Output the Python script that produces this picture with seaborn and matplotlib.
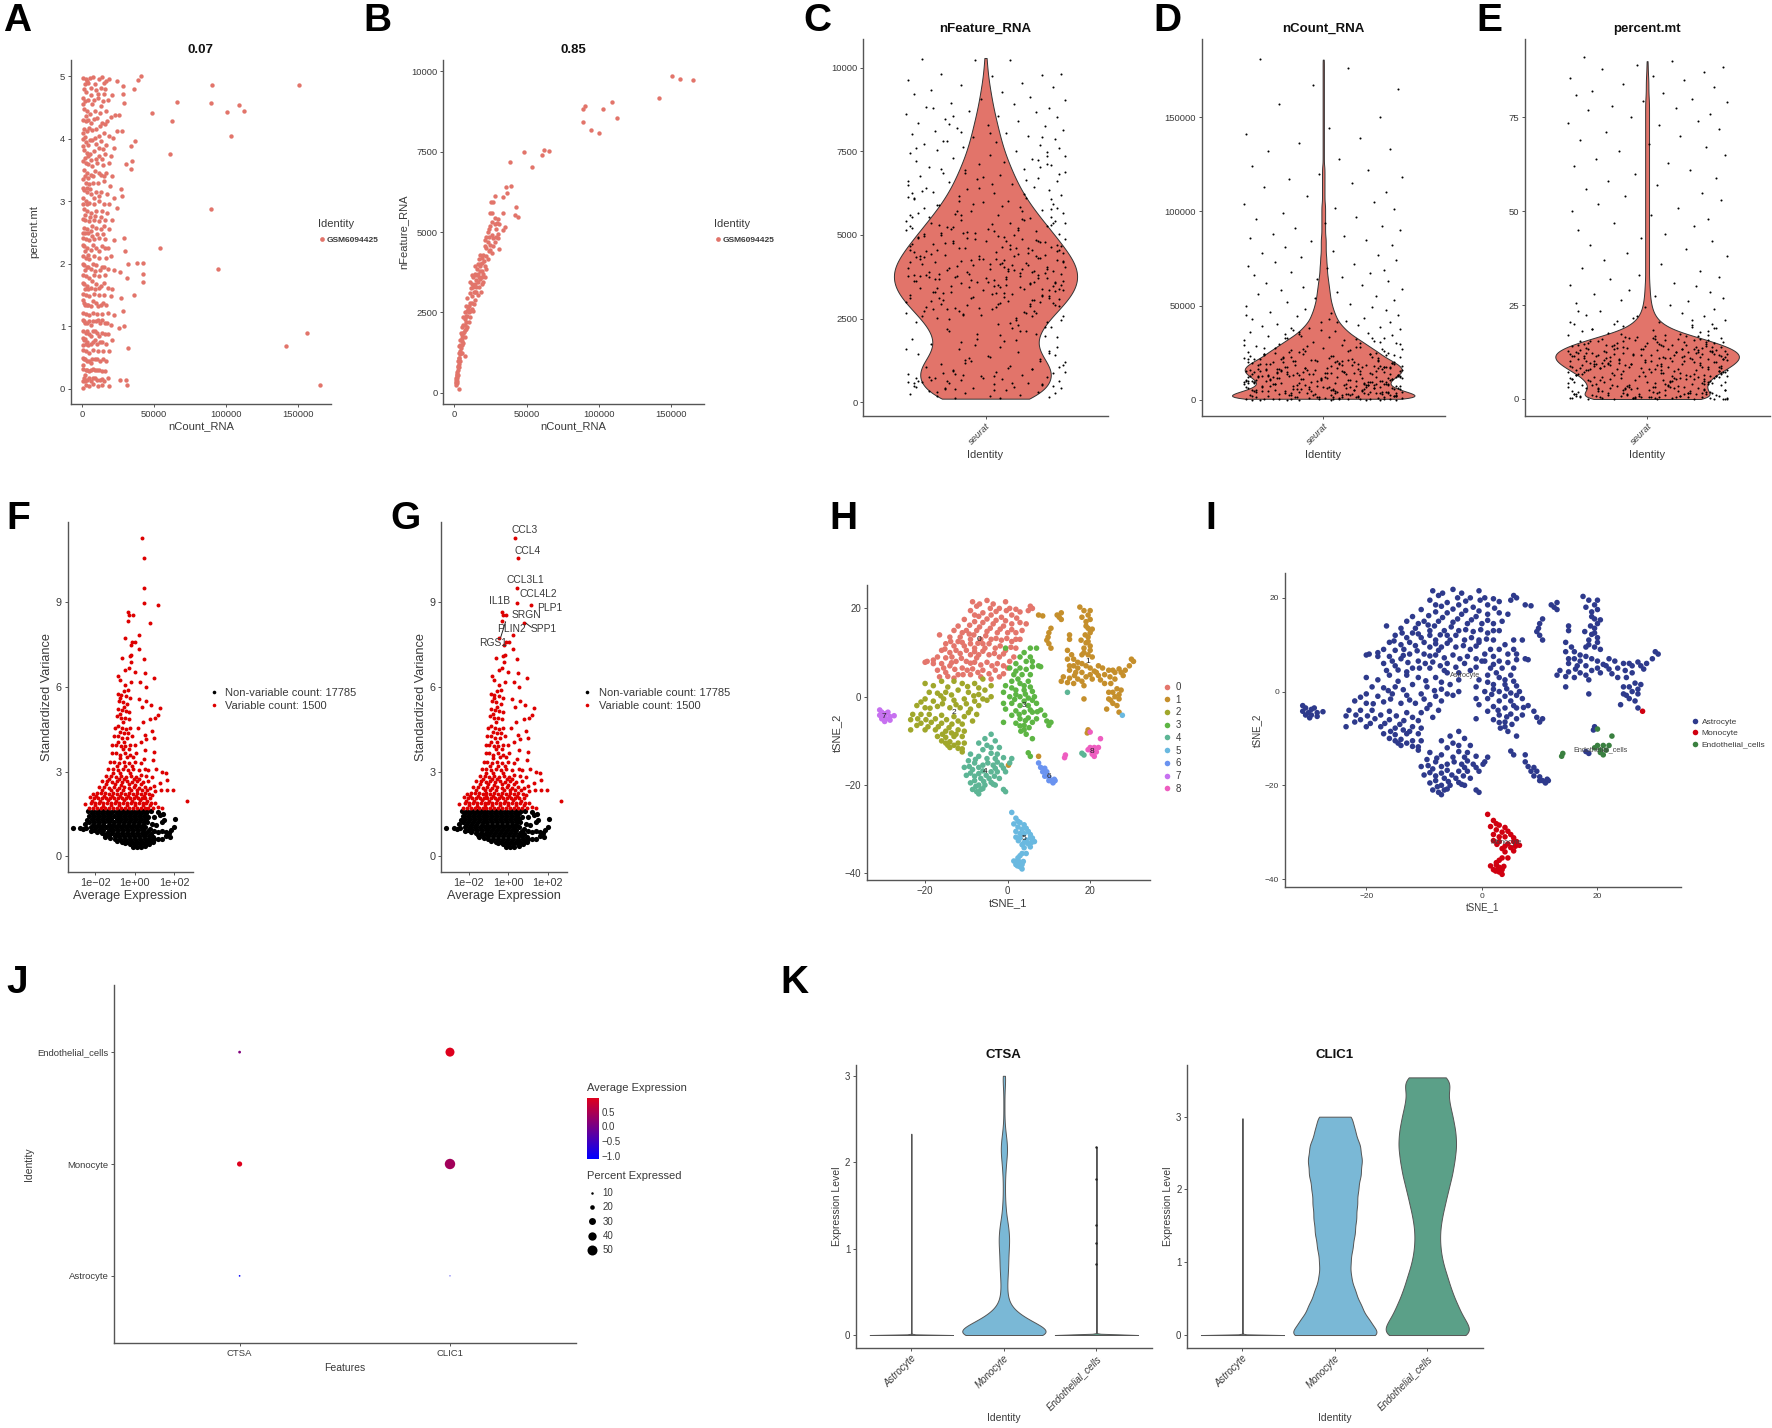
import numpy as np
import pandas as pd
import matplotlib
matplotlib.use("Agg")
import matplotlib.pyplot as plt
import seaborn as sns
from matplotlib.colors import LinearSegmentedColormap, Normalize
from matplotlib.colorbar import ColorbarBase
from matplotlib.lines import Line2D

# ---------- data ----------
qc_color = "#E2746A"
identity_name = "GSM6094425"

# A: nCount_RNA (thousands), percent.mt
a_points = [(150.7,4.86),(90.6,4.86),(89.6,4.57),(65.8,4.59),(48.3,4.42),(62.2,4.29),(101,4.43),(109,4.54),(112.7,4.44),(103.5,4.05),(61.1,3.76),(89.6,2.88),(54,2.25),(94.6,1.92),(142,.69),(156.4,.89),(165,.07),
(40.9,5),(38.7,4.94),(36.3,4.79),(28.5,4.85),(24.2,4.93),(28.4,4.72),(29.2,4.58),(25.6,4.38),(27.7,4.13),(37,3.97),(34,3.89),(30.6,3.6),(34.8,3.65),(34.1,3.51),(27.4,3.2),(27.7,3.09),(29.1,2.42),(29.8,2.2),(32,2),(38.4,2.02),(42.3,2.01),(42.6,1.84),(42.6,1.71),(31.6,1.78),(26.6,1.87),(35.9,1.51),(27,1.46),(28.4,1.25),(29.1,1),(25.9,.97),(32,.65),(26.6,.14),(30.5,.14),(31.6,.07),(19,.04),
(1,4.98),(2.5,4.95),(4,4.9),(5.5,4.97),(7.5,4.99),(9,4.88),(12,4.95),(14,4.99),(15.5,4.9),(17,4.92),(19,4.96),(1.2,4.8),(3,4.75),(6,4.82),(10,4.78),(13,4.82),(16,4.8),(21,4.7),(.8,4.65),(2.2,4.6),(4.5,4.62),(7,4.55),(11,4.65),(14.5,4.6),(18,4.62),(1.5,4.48),(3.5,4.45),(5.5,4.4),(9,4.45),(12.5,4.42),(16.5,4.45),(20,4.35),(23,4.38),(.7,4.3),(2.5,4.28),(6.5,4.25),(8,4.32),(14,4.25),(17.5,4.28),(1.5,4.15),(3.8,4.12),(5,4.18),(9.5,4.15),(11.5,4.05),(15.5,4.1),(19,4.05),(21.5,4.02),(24,4.12),(.9,4),(2.8,3.95),(4.2,3.9),(7,3.98),(10,3.92),(13,3.97),(17,3.9),(22,3.85),(1.2,3.82),(3.2,3.78),(5.8,3.75),(8.5,3.8),(12,3.72),(16,3.76),(20,3.72),(.7,3.65),(2.5,3.62),(4.5,3.6),(7,3.56),(10.5,3.62),(14.5,3.58),(18.5,3.62),(1.4,3.5),(3.4,3.45),(6,3.42),(9,3.48),(13,3.42),(16.8,3.45),(21,3.4),(.8,3.35),(2.5,3.3),(4.8,3.28),(7.8,3.3),(11,3.3),(15,3.32),(19.5,3.25),(1.5,3.18),(3.6,3.15),(6.2,3.12),(9.5,3.15),(13,3.15),(17.5,3.12),(22,3.05),(.9,3.05),(2.6,3),(5,2.98),(8,2.95),(11.5,3),(15,2.95),(19,2.95),(1.3,2.88),(3.4,2.85),(6.5,2.82),(10,2.85),(14,2.85),(17.5,2.82),(24,2.9),(.8,2.72),(2.4,2.7),(4.6,2.68),(8,2.7),(12,2.68),(16,2.7),(21,2.7),(1.5,2.58),(3.5,2.55),(6.2,2.52),(9.5,2.58),(13.5,2.55),(19,2.55),(.9,2.42),(2.8,2.4),(5,2.38),(8,2.4),(11.5,2.42),(16,2.4),(22,2.38),(1.4,2.28),(3.6,2.25),(6.5,2.22),(10,2.25),(14,2.28),(18,2.25),(.8,2.12),(2.5,2.1),(4.8,2.08),(8,2.12),(12,2.1),(16.5,2.1),(20,2.12),(1.5,1.98),(3.5,1.95),(6.5,1.92),(10,1.98),(14,1.95),(18,1.92),(22,1.9),(.9,1.82),(2.5,1.8),(5,1.78),(8,1.82),(12,1.8),(16,1.82),(1.5,1.68),(3.4,1.65),(6.5,1.62),(10,1.68),(13.5,1.65),(18,1.62),(21,1.6),(.8,1.52),(2.6,1.5),(5,1.48),(8,1.52),(11.5,1.5),(15,1.5),(20,1.48),(1.4,1.38),(3.5,1.35),(6.2,1.32),(9.5,1.38),(13,1.35),(16.5,1.35),(.9,1.22),(2.5,1.2),(4.8,1.18),(7.5,1.22),(10.5,1.2),(14,1.2),(18,1.22),(22,1.18),(1.5,1.08),(3.6,1.05),(6.5,1.02),(9.5,1.08),(12.5,1.05),(16,1.05),(20,1.02),(.8,.92),(2.6,.9),(4.8,.88),(7.5,.92),(10.5,.9),(14,.9),(18,.88),(1.4,.78),(3.5,.75),(6,.72),(9,.78),(12.5,.75),(16.5,.72),(21,.78),(.9,.62),(2.5,.6),(4.8,.58),(7.5,.62),(11,.6),(14.5,.6),(19,.6),(1.5,.48),(3.5,.45),(6,.42),(9,.48),(12.5,.45),(17,.45),(.8,.32),(2.6,.3),(4.8,.28),(7.5,.32),(10.5,.3),(14,.28),(1.4,.18),(3.5,.15),(6,.12),(9,.18),(12.5,.15),(15.5,.12),(18,.18),(.9,.02),(2.6,.06),(4.8,.05),(7.5,.08),(11,.05),(14,.06),
(1.9,4.87),(3.3,4.93),(6.4,4.7),(8.2,4.62),(11.1,4.72),(13.3,4.52),(15.2,4.71),(.6,4.55),(2.9,4.37),(4.4,4.3),(7.3,4.14),(10.2,4.34),(12.6,4.2),(15.7,4.23),(.5,4.1),(2.1,4.03),(5.7,3.98),(8.9,4.02),(11.8,3.85),(14.9,3.83),(.6,3.88),(2,3.7),(4.1,3.72),(6.6,3.66),(9.4,3.68),(13.6,3.67),(1.8,3.4),(4.2,3.38),(7.7,3.4),(11.7,3.45),(15.4,3.4),(.5,3.22),(3.2,3.22),(5.6,3.2),(8.5,3.05),(12,3.08),(.4,2.95),(1.9,2.78),(3.7,2.95),(5.4,2.75),(7.1,2.6),(9.3,2.77),(13,2.75),(15.6,2.6),(.4,2.5),(2.2,2.5),(4.2,2.5),(6.9,2.45),(10.4,2.48),(14.6,2.48),(.5,2.3),(2.1,2.2),(4.3,2.15),(7.4,2.3),(12,2.2),(16,2.25),(.4,2),(2.3,1.9),(4.5,1.95),(7.4,2),(9.2,1.88),(12.6,1.9),(15.6,1.95),(.5,1.7),(2.2,1.6),(4.2,1.6),(7.2,1.72),(8.8,1.6),(11.8,1.62),(15.2,1.7),(.4,1.42),(2.2,1.35),(4.5,1.35),(7.4,1.4),(11.3,1.32),(14.7,1.38),(.4,1.1),(2.2,1.05),(5,1.08),(7.8,1.08),(11.2,1.1),(13.9,1.1),(17.6,1.05),(.5,.82),(2,.8),(3.6,.92),(6,.85),(8.8,.92),(11.8,.85),(15.8,.88),(.4,.7),(2.5,.72),(4.3,.7),(7.5,.75),(10.4,.72),(14,.75),(.5,.5),(2.3,.48),(4.6,.45),(7.3,.48),(10.5,.48),(14.5,.48),(.4,.38),(1.9,.22),(3.7,.3),(6.3,.3),(8.7,.3),(11.9,.3),(16,.28),(.5,.12),(2.4,.12),(4.8,.18),(7.6,.18),(10.6,.14),(13.8,.16)]

# B: nCount_RNA (thousands), nFeature_RNA
b_points = [(150.4,9835),(156.4,9742),(165,9710),(142,9174),(108.9,9029),(90.4,8905),(89,8833),(102.9,8833),(112.7,8543),(89,8409),(94.3,8161),(100,8079),(62,7541),(65.5,7510),(48.2,7500),(60.8,7376),(54,7025),(38.4,7159),(39,6426),(35.5,6405),(36.6,6198),(33.4,6095),(28.4,6126),(25.6,5940),(27,5920),(43,5785),(42,5527),(44,5475),(33.4,5578),(29.8,5289),(34.8,5165),(24.7,5578),(33.4,5062),(31,4463),(26,5300),(24,5100),(28,5250),(30,4950),(27,4800),(29,4850),(23,4700),(21,4550),(25,4600),(20,4300),(18,4300),(22,4250),(26,4350),(19,4050),(21,3950),(16,4000),(17.5,3800),(14.5,3950),(20,3700),(18,3550),(15,3650),(13,3600),(17,3300),(15,3300),(19,3400),(12,3400),(10.5,3450),(13.5,3150),(16,3050),(11,3100),(14,2900),(9,2950),(12,2800),(10,2700),(8,2700),(13,2550),(7.5,2500),(9,2400),(11,2350),(6,2350),(8,2200),(7,2100),(5.5,2050),(9,2050),(6.5,1900),(4.5,1850),(5.5,1700),(4,1650),(5,1500),(3.5,1450),(4.2,1300),(3,1250),(7,1150),(3.5,1100),(2.5,1000),(3,900),(2.2,800),(2.6,700),(1.8,650),(2.1,550),(1.4,450),(1.7,380),(1,300),(1.3,240),(3.5,130),(16,3700),(18,3950),(14,3400),(12.5,3000),(11,2800),(10,2500),(15,3500),(17,3600),(19,3800),(8.5,2550),(7,2300),(6,2100),(5,1800),(4,1500),(3,1100),(2,600),(1,400),
(22,4500),(24,4400),(19,4200),(23,4150),(20.5,4100),(17,4150),(15.5,3850),(17.5,4000),(19,3600),(16.5,3450),(14.5,3150),(13,3300),(11.5,3250),(15,3150),(12,2600),(13.5,2750),(11,2550),(9.5,2600),(8,2400),(10,2200),(7,1950),(8,2000),(6,1850),(7,1750),(5,1600),(6,1550),(4.5,1400),(5,1250),(3.8,1200),(4,1000),(3,1000),(3.2,800),(2.5,850),(2.5,550),(2,450),(2.1,320),(1.5,520),(1.2,350),(26,4900),(25,5200),(28,4700),(29,5100),(30.5,4800),(24,4850),(22,4850),(25,4450),(27,4550),(31,5250),(28,5450),(30,5400),(23,5000),(21,4750),(26,5600),(14,3700),(12.5,3650),(18.5,3150),(20,3450),(21,3600),(22,3850)]

# C, D, E: violin outlines as levels and relative counts, and the jittered cells
c_levels = [100,500,900,1300,1700,2100,2500,2900,3300,3700,4100,4500,4900,5300,5700,6100,6500,6900,7300,7700,8100,8500,8900,9300,9700,10100,10300]
c_counts = [90,100,112,90,75,83,100,122,140,147,143,128,112,95,78,63,51,42,33,26,21,16,11,8,4,2,1]
d_levels = [500,3000,5500,8000,10500,13000,15500,18000,20500,23000,25500,28000,30500,33000,35500,38000,40500,43000,45500,48000,50500,53000,55500,58000,60500,63000,65500,68000,70500,73000,75500,78000,80500,83000,85500,88000,90500,93000,95500,98000,100500,103000,105500,108000,110500,113000,115500,118000,120500,123000,125500,128000,130500,133000,135500,138000,140500,143000,145500,148000,150500,153000,155500,158000,160500,163000,165500,168000,170500,173000,175500,178000,180500]
d_counts = [165,150,120,105,110,122,130,125,112,98,88,76,65,53,42,34,27,22,19,16,14,12,11,10,9,8,7,6,6,5,5,4,4,4,4,3,3,3,3,3,3,3,2,2,2,2,2,2,2,2,1,1,1,1,1,1,1,1,1,1,1,1,1,1,1,1,1,1,1,1,1,1,1]
e_levels = [0,1.5,3,4.5,6,7.5,9,10.5,12,13.5,15,16.5,18,19.5,21,22.5,24,25.5,27,28.5,30,31.5,33,34.5,36,37.5,39,40.5,42,43.5,45,46.5,48,49.5,51,52.5,54,55.5,57,58.5,60,61.5,63,64.5,66,67.5,69,70.5,72,73.5,75,76.5,78,79.5,81,82.5,84,85.5,87,88.5,90]
e_counts = [135,90,90,93,102,118,133,145,147,133,108,78,45,27,17,11,8,6,5,4,4,3,3,3,3,3,3,3,3,3,3,3,3,3,3,3,3,3,3,3,3,3,3,3,3,3,3,3,3,3,3,3,3,3,2,2,2,2,1,1,1]

jitter_offsets = [-.31,.12,-.05,.37,-.22,.28,.03,-.38,.18,-.12,.33,-.27,.08,-.35,.22,-.02,.39,-.17,.14,-.29,.31,-.08,.25,-.39,.06,.35,-.2,.16,-.33,.01,.29,-.14,.38,-.25,.1,-.36,.21,-.06,.34,-.19,.05,-.3,.27,-.11,.36,-.24,.15,-.37,.02,.3,-.16,.23,-.34,.09,-.03,.32,-.28,.19,-.1,.39,-.21,.07,-.32,.26,-.04,.35,-.18,.13,-.38,.24,-.09,.31,-.26,.04,.37,-.13,.2,-.35,.11,-.01,.33,-.23,.17,-.3,.28,-.07,.38,-.15,.06,-.36,.22,-.12,.34,-.27,.03,.3,-.19,.16,-.39,.25,-.05,.36,-.22,.09,-.33,.18,.0,.29,-.16,.12,-.37,.32,-.1,.23,-.29,.05,.38,-.2,.14,-.34,.27,-.03,.35,-.25,.08,-.31,.21,-.14,.39,-.18,.02,.33,-.28,.17,-.08,.26,-.38,.1,.3,-.23,.04,-.35,.24,-.12,.37,-.17,.07,-.32,.19,-.01,.34,-.26,.13,-.37,.28,-.06,.31,-.21,.11,-.39,.22,-.09,.36,-.15,.03,-.3,.25,-.11,.38,-.24,.15,-.34,.06,.32,-.19,.2,-.04,.29,-.36,.09,-.27,.35,-.13,.16,-.33,.01,.27,-.07,.39,-.22,.12,-.29,.23,-.16,.05,.33,-.38,.18,-.02,.3,-.25,.08,-.12,.36,-.31,.21,-.18,.04,.28,-.35,.14,-.06,.37,-.2,.1,-.28,.26,-.1,.34,-.37,.17,.02,-.24,.31,-.15,.07,-.33,.24,-.05,.38,-.21,.13,-.3,.29,-.08,.19,-.39,.11,.35,-.17,.04,-.26,.32,-.12,.22,-.34,.06,.27,-.03,-.23,.15,.38,-.36,.09,-.14,.3,-.19,.25,-.29,.01,.33,-.11,.18,-.38,.12,.36,-.07,-.24,.28,-.32,.05,.2,-.16,.39,-.27,.1,-.01,.34,-.35,.16,-.09,.23,-.22,.31,-.13,.07,-.37,.26]
c_values = [10280,10250,10230,9820,9810,9780,9750,9640,9560,9480,9420,9350,9280,9210,9130,9060,9030,8950,8910,8840,8790,8720,8680,8610,8570,8520,8470,8410,8360,8300,8260,8210,8150,8110,8060,8010,7960,7920,7870,7820,7780,7730,7680,7640,7590,7550,7500,7450,7410,7360,7320,7270,7220,7180,7130,7090,7040,6990,6950,6900,6850,6810,6760,6720,6670,6620,6580,6530,6490,6440,6390,6350,6300,6260,6210,6170,6120,6080,6030,5990,5940,5900,5850,5810,5760,5720,5670,5630,5590,5540,5500,5460,5410,5370,5330,5280,5240,5200,5160,5110,5070,5030,4990,4950,4910,4870,4830,4790,4750,4710,4670,4640,4600,4560,4520,4490,4450,4410,4380,4340,4310,4270,4240,4200,4170,4130,4100,4070,4030,4000,3970,3930,3900,3870,3840,3800,3770,3740,3710,3680,3640,3610,3580,3550,3510,3480,3450,3410,3380,3350,3310,3280,3240,3210,3170,3140,3100,3060,3020,2980,2940,2900,2860,2810,2770,2720,2670,2620,2570,2510,2450,2390,2330,2260,2190,2120,2050,1970,1900,1820,1740,1660,1590,1510,1440,1370,1300,1240,1190,1130,1080,1040,990,950,910,880,840,810,780,750,720,690,660,640,610,580,560,530,510,480,460,430,410,380,360,330,310,280,260,230,210,190,170,150,130,120]
c_values_more = [3720,4180,2950,4610,3340,5070,2580,3890,4430,6120,3560,710,4820,3010,5350,940,2670,4280,3760,530,5890,3120,4550,2380,6610,3980,810,3460,5190,2840,4370,620,4050,5710,3260,4720,1120,2510,3830,6400,2990,4980,450,3560,4210,5530,2770,360,3290,4690,3910,1580,6240,3440,4390,5020,2220,860,3630,4890,2730,5660,4120,390,3180,4560,1360,3780,5260,2890,6870,4310,740,3510,4760,2470,5940,3950,580,3370,5130,2130,4470,6330,3070,1790,4640,3690,7130,2610,5480,4000,480,3250,4830,990,3810,5370,2920,7380,4240,1240,3600,4950,2310,6010,4510,670,3150,5220,3860,1880,4160,2790,5790,3490,7610,4600,290,3340,5050,2040,4330,6520,3730,1050,4910,2870,5420,3970,7820,1470,4090,3210,5610,560,4730,3580,6750,2680,4270,1660,5170,3840,8090,3040,4490,770,5310,2400,3670,6130,4810,1320,3430,5530,2970,4140,8310,900,3770,4620,2560,5880,3300,1960,4370,7040,3610,5000,430,4210,2840,6420,3890,1180,5290,3120,4570,8550,2260,3720,5710,640,4030,6980,3380,1720,4860,2660,5140,3950,7470,3230,4440,1420,5610,3530,6270,2930,840,4190,3650,7920,4970,2140,3100,5350,4290,1010,3800,6640,2730,4680,3480,8800,1540,5080,3910,600,4110,2480,5800,3590,7250,4380,2020,3270,4890,1260,5460,3750,6090,2820,4240,730,3060,5230,3990,8050,4540,1850,3400,6830,2590,4780]
d_values = [181000,176000,167000,165000,157000,150000,144000,141000,139000,136000,133000,132000,128000,124000,122000,120000,118000,117000,115000,113000,110000,108000,105000,104000,102000,101000,99000,97000,96000,94000,92000,91000,90000,88000,87000,86000,85000,84000,82000,81000,79000,78000,77000,76000,74000,73000,72000,71000,70000,69000,68000,67000,66000,65000,64000,63000,62000,61000,60000,59000,58000,57000,56000,55000,54000,53000,52000,51000,50000,49000,48000,47500,46500,46000,45000,44500,43500,43000,42000,41500,41000,40000,39500,39000,38500,38000,37500,37000,36500,36000,35500,35000,34500,34000,33500,33000,32500,32000,31500,31000,30500,30000,29500,29000,28500,28000,27500,27000,26500,26000,25500,25000,24500,24000,23500,23000,22600,22200,21800,21400,21000,20600,20200,19800,19400,19000,18600,18200,17800,17400,17000,16700,16400,16100,15800,15500,15200,14900,14600,14300,14000,13700,13400,13100,12800,12500,12200,11900,11600,11300,11000,10700,10400,10100,9800,9500,9200,8900,8600,8300,8000,7700,7400,7100,6800,6500,6200,5900,5600,5300,5000,4700,4400,4100,3800,3500,3200,2900,2600,2300,2000,1800,1600,1400,1200,1000,900,800,700,600,500,450,400,350,300,250,220,200,180,160,140,120,100,90,80,70,60,50,40,30]
d_values_more = [123,88,204,56,175,31,142,260,73,19,196,109,315,45,158,228,91,12,183,66,275,134,38,211,97,152,340,25,119,243,62,171,84,15,205,128,295,49,163,101,222,34,147,79,360,117,190,53,252,21,138,94,176,285,42,126,70,214,155,27,330,105,168,58,236,82,143,18,199,112,268,36,159,76,225,130,47,182,98,305,23,149,65,218,121,39,192,86,258,14,136,107,173,52,380,93,240,29,165,115,68,207,144,41,279,77,187,125,16,232,100,156,59,350,33,198,87,140,246,71,110,178,44,220,131,22,167,95,290,60,151,83,210,37,120,263,75,194,103,48,161,410,26,129,89,229,54,177,116,17,146,69,250,35,188,97,135,61,325,43,206,80,154,11,118,238,72,170,92,30,200,127,57,272,40,148,85,215,105,24,162,67,300,50,185,113,20,139,78,224,99,46,174,430,132,63,255,28,157,90,208,122,55,180,74,13,145,104,370,32,195,81,141,64,233,111,42,169,96,450,27,137,58,212,86,124,39,160,270,108,51,189,76,15,150,94,245,36,172,114,62,202,84,25]
e_values = [91,90,89,88.5,88,87,86,85.5,85,84,83,82,81.5,81,80,79.5,79,78,77.5,77,76,75,74,73.5,73,72,71,70,69,68,67,66,65,64,63,62,61,60,59,58,57,56,55,54,53,52,51,50,49,48,47,46,45,44,43,42,41,40,39,38,37,36,35,34,33,32.5,32,31,30.5,30,29,28.5,28,27.5,27,26.5,26,25.5,25,24.5,24,23.5,23,22.5,22,21.5,21,20.7,20.4,20,19.7,19.4,19,18.7,18.4,18,17.7,17.4,17,16.8,16.5,16.2,16,15.7,15.5,15.2,15,14.7,14.5,14.3,14,13.8,13.6,13.4,13.2,13,12.8,12.6,12.4,12.2,12,11.8,11.6,11.4,11.2,11,10.8,10.6,10.4,10.2,10,9.8,9.6,9.4,9.2,9,8.8,8.6,8.4,8.2,8,7.8,7.6,7.4,7.2,7,6.8,6.6,6.4,6.2,6,5.8,5.6,5.4,5.2,5,4.8,4.6,4.4,4.2,4,3.8,3.6,3.4,3.2,3,2.8,2.6,2.4,2.2,2,1.9,1.8,1.7,1.6,1.5,1.4,1.3,1.2,1.1,1,.9,.8,.7,.6,.5,.4,.3,.25,.2,.15,.1,.05,.02,.01,.0,12.1,11.5,13.3,10.7,9.3,14.2,15.4,8.9,7.3,6.1,5.3,3.3,2.3,1.2,.6,.3,.1]
e_values_more = [11.2,8.4,14.3,5.6,12.7,2.1,9.8,16.2,6.9,.8,13.1,10.5,3.4,18.7,7.7,12,1.5,15.3,9.1,4.8,11.8,.3,13.9,6.2,20.4,10.1,2.8,14.8,8,5.1,12.4,1.1,17.1,9.5,3.9,11.5,7.1,15.9,.5,13.4,4.3,10.8,6.6,19.3,2.4,12.9,8.7,.2,14.1,5.8,11,3.1,16.7,9.3,1.8,13.6,7.4,10.3,4.5,22.1,12.2,.7,8.9,15,6,2.6,11.7,13.2,5.3,9.9,1.3,17.8,7.9,3.6,14.5,10.7,.4,12.6,6.4,4.1,16,9,2,11.4,8.2,13.8,5,.9,15.6,7.2,3.2,10.2,12.1,1.6,19.9,6.7,14.9,4.7,9.6,.1,11.9,8.5,2.3,13,5.5,17.4,7.5,3.7,10.9,1.2,15.2,6.1,12.5,9.2,4.2,.6,14.4,8.1,2.9,11.1,16.5,5.9,10,1.9,13.5,7,3.3,21,12.8,4.9,8.8,.35,15.7,6.5,2.2,11.6,9.4,1,14,5.2,18.2,7.8,3.8,10.6,12.3,1.4,6.3,16.9,8.3,4.4,13.3,.15,9.7,2.7,11.3,15.4,5.7,7.3,3,12,10.4,1.7,14.7,6.8,4,8.6,.45,13.7,23.5,5.4,11.05,2.5,9.05,7.6,15.8,3.5,12.65,.25,10.05,6.35,14.2,4.6,1.35,8.35,17,5.95,11.45,2.85,13.15,7.15,.75,9.55,3.95,16.3,12.15,6.05,1.55,10.75,4.55,14.65,8.05,.05,11.85,2.65,7.65,13.45,5.15,19,9.85,3.15,12.45,.55,6.75,15.1,4.25,10.25,1.85,8.55,13.95,5.65,2.95,11.15,7.35,.85,16.1,3.75,9.35,12.85,6.25,1.15,14.35,4.75,20,8.15,2.45,10.55,5.35,13.25,7.95,.65,11.55,3.45,15.5,6.55,9.15,1.65,12.35]

# F, G: log10 average expression, standardized variance
red_points = [(.37,11.27),(.49,10.55),(.47,9.5),(.47,8.97),(1.17,8.88),(-.32,8.63),(-.27,8.54),(-.1,8.54),(-.32,8.34),(.79,8.25),(.22,7.84),(-.47,7.73),(-.12,7.57),(-.2,7.46),(.02,7.58),(.22,7.33),(-.17,7.12),(-.25,7.1),(.47,6.98),(-.62,7),(-.2,6.87),(-.3,6.65),(-.49,6.59),(0,6.53),(.52,6.5),(-.84,6.38),(.96,6.3),(-.74,6.23),(-.17,6.18),(.27,6.18),(-.47,6.06),(.57,6),
(-.55,5.85),(-.35,5.9),(-.85,5.75),(-.7,5.7),(-.45,5.68),(-.25,5.6),(.2,5.55),(.6,5.5),(.85,5.35),(1.3,5.25),(-.8,5.5),(-.6,5.45),(-.38,5.4),(.35,5.3),(-.85,5.2),(-.65,5.18),(-.45,5.15),(-.28,5.1),(1.2,5),(1.05,4.9),(.8,4.85),(-.9,4.95),(-.7,4.9),(-.5,4.88),(-.3,4.85),(.4,4.75),(.9,4.45),(-1,4.55),(-.85,4.6),(-.65,4.55),(-.45,4.5),(-.25,4.55),(.15,4.55),(.5,4.3),(1,4.2),(.6,4.15),(-1.05,4.25),(-.85,4.25),(-.65,4.2),(-.4,4.2),(-.15,4.25),(.3,4.05),(-1.15,3.95),(-.95,3.95),(-.7,3.9),(-.5,3.9),(-.25,3.95),(0,3.95),(.55,3.75),(1,3.7),(-1.15,3.65),(-.95,3.65),(-.75,3.6),(-.5,3.65),(-.25,3.6),(.05,3.65),(.45,3.45),(.95,3.4),(-1.25,3.35),(-1.05,3.35),(-.8,3.3),(-.55,3.35),(-.3,3.3),(0,3.35),(.3,3.3),(1.1,3.1),(1.4,3),(-1.35,3.1),(-1.1,3.08),(-.85,3.05),(-.6,3.08),(-.35,3.05),(-.1,3.08),(.2,3.05),(.55,3.1),(.7,3.05),(1.6,2.95),(-1.45,2.85),(-1.2,2.85),(-.95,2.82),(-.7,2.85),(-.45,2.82),(-.2,2.85),(.05,2.82),(.3,2.88),(.6,2.85),(.9,2.8),(1.65,2.7),(-1.65,2.65),(-1.4,2.65),(-1.15,2.62),(-.9,2.65),(-.65,2.62),(-.4,2.65),(-.15,2.62),(.1,2.65),(.4,2.62),(.7,2.65),(1.3,2.6),(-1.8,2.45),(-1.55,2.45),(-1.3,2.42),(-1.05,2.45),(-.8,2.42),(-.55,2.45),(-.3,2.42),(-.05,2.45),(.2,2.42),(.5,2.45),(.8,2.42),(1,2.5),(1.95,2.35),(1.65,2.35),(-2.1,2.2),(-1.9,2.25),(-1.7,2.25),(-1.5,2.25),(-1.3,2.22),(-1.1,2.25),(-.9,2.22),(-.7,2.25),(-.5,2.22),(-.3,2.25),(-.1,2.22),(.1,2.25),(.3,2.22),(.5,2.25),(.75,2.22),(1.05,2.3),(1.35,2.35),(-2.25,2.1),(-2.05,2.05),(-1.85,2.08),(-1.65,2.05),(-1.45,2.08),(-1.25,2.05),(-1.05,2.08),(-.85,2.05),(-.65,2.08),(-.45,2.05),(-.25,2.08),(-.05,2.05),(.15,2.08),(.35,2.05),(.55,2.08),(.8,2.05),(2.66,1.95),(-2.5,1.85),(-2.2,1.88),(-2,1.88),(-1.8,1.88),(-1.6,1.9),(-1.4,1.88),(-1.2,1.9),(-1,1.88),(-.8,1.9),(-.6,1.88),(-.4,1.9),(-.2,1.88),(0,1.9),(.2,1.88),(.4,1.9),(.6,1.88),(.85,1.9),(1.05,1.9),(-2.3,1.72),(-2.1,1.72),(-1.9,1.72),(-1.7,1.72),(-1.5,1.72),(-1.3,1.72),(-1.1,1.72),(-.9,1.72),(-.7,1.72),(-.5,1.72),(-.3,1.72),(-.1,1.72),(.1,1.72),(.3,1.72),(.5,1.72),(.7,1.72),(.95,1.72),(1.2,1.75),(1.4,1.72),
(-2,1.8),(-1.6,1.78),(-1.2,1.8),(-.8,1.8),(-.4,1.8),(0,1.8),(.4,1.8),(.8,1.8),(-2.15,1.97),(-1.75,1.97),(-1.35,1.98),(-.95,1.97),(-.55,1.98),(-.15,1.97),(.25,1.98),(.65,1.97),(-1.95,2.15),(-1.55,2.15),(-1.15,2.15),(-.75,2.15),(-.35,2.15),(.05,2.15),(.45,2.15),(.9,2.18),(-1.65,2.34),(-1.2,2.33),(-.9,2.35),(-.6,2.33),(-.2,2.35),(.1,2.33),(.35,2.35),(.65,2.33),(-1.45,2.55),(-1,2.55),(-.7,2.53),(-.3,2.55),(0,2.53),(.3,2.55),(-1.3,2.74),(-.8,2.74),(-.55,2.72),(-.05,2.74),(.2,2.72),(-1.1,2.95),(-.75,2.94),(-.25,2.95),(-.5,3.2),(-.9,3.2),(-.15,3.2),(-.75,3.48),(-.4,3.5),(-.1,3.5),(-.6,3.78),(-.3,3.78),(-.85,4.05),(-.55,4.05),(-.75,4.4),(-.55,4.35),(-.35,4.38),(-.6,4.75),(-.75,5.05),(-.55,5.3),(-.72,5.6)]
black_points = [(-3.14,1),(-2.77,1),(-2.6,.97),(-2.45,1),(-2.5,1.15),(-2.4,1.3),(-2.35,1.6),(-2.1,1.62),(-1.85,1.62),(-1.6,1.62),(-1.35,1.62),(-1.1,1.62),(-.85,1.62),(-.6,1.62),(-.35,1.62),(-.1,1.62),(.15,1.62),(.4,1.62),(.65,1.62),(.85,1.6),
(-2.3,1.42),(-2.05,1.42),(-1.8,1.42),(-1.55,1.42),(-1.3,1.42),(-1.05,1.42),(-.8,1.42),(-.55,1.42),(-.3,1.42),(-.05,1.42),(.2,1.42),(.45,1.42),(.68,1.4),
(-2.3,1.22),(-2.05,1.22),(-1.8,1.22),(-1.55,1.22),(-1.3,1.22),(-1.05,1.22),(-.8,1.22),(-.55,1.22),(-.3,1.22),(-.05,1.22),(.2,1.22),(.45,1.22),(.62,1.2),
(-2.2,1.02),(-1.95,1.02),(-1.7,1.02),(-1.45,1.02),(-1.2,1.02),(-.95,1.02),(-.7,1.02),(-.45,1.02),(-.2,1.02),(.05,1.02),(.3,1.02),(.55,1.02),(.8,.98),
(-2.2,.88),(-1.9,.85),(-1.65,.82),(-1.4,.82),(-1.15,.82),(-.9,.82),(-.65,.82),(-.4,.82),(-.15,.82),(.1,.82),(.35,.82),(.6,.82),(.82,.8),
(-1.5,.68),(-1.25,.65),(-1,.62),(-.75,.62),(-.5,.62),(-.25,.62),(0,.62),(.25,.62),(.5,.62),(.75,.6),(1,.6),(1.2,.6),(1.4,.62),(1.6,.72),(1.75,.82),(1.85,.92),(2,1.03),(1.6,.85),(1.8,.68),
(-.5,.48),(-.25,.45),(0,.42),(.25,.42),(.5,.42),(.75,.45),(.95,.5),(-.1,.33),(.1,.33),(.3,.34),(.55,.37),
(1,1.4),(1.3,1.45),(1.4,1.2),(1.1,1.1),(1.5,1.3),(.9,1.15),(1.2,1.55),(1.45,1.5),(2.05,1.33),(1,.88),(1.2,.85),(1.4,.9),
(-2.18,1.52),(-1.92,1.52),(-1.68,1.52),(-1.42,1.52),(-1.18,1.52),(-.92,1.52),(-.68,1.52),(-.42,1.52),(-.18,1.52),(.08,1.52),(.32,1.52),(.56,1.52),(-2.18,1.32),(-1.92,1.32),(-1.68,1.32),(-1.42,1.32),(-1.18,1.32),(-.92,1.32),(-.68,1.32),(-.42,1.32),(-.18,1.32),(.08,1.32),(.32,1.32),(.56,1.32),(-2.12,1.12),(-1.88,1.12),(-1.62,1.12),(-1.32,1.12),(-1.08,1.12),(-.82,1.12),(-.58,1.12),(-.32,1.12),(-.08,1.12),(.18,1.12),(.42,1.12),(-2.05,.94),(-1.82,.92),(-1.58,.92),(-1.32,.92),(-1.08,.92),(-.82,.92),(-.58,.92),(-.32,.92),(-.08,.92),(.18,.92),(.42,.92),(.68,.9),(-1.52,.75),(-1.28,.74),(-1.02,.72),(-.78,.72),(-.52,.72),(-.28,.72),(-.02,.72),(.22,.72),(.48,.72),(.72,.72),(.95,.7),(-.88,.55),(-.62,.52),(-.38,.52),(-.12,.52),(.12,.52),(.38,.52),(.62,.52),(.85,.54)]
gene_names = ["CCL3","CCL4","CCL3L1","CCL4L2","IL1B","PLP1","SRGN","PLIN2","SPP1","RGS1"]
gene_log_x = [.84,.96,.89,1.55,-.45,2.12,.91,.15,1.82,-.78]
gene_y = [11.55,10.81,9.76,9.27,9.03,8.8,8.53,8.04,8.04,7.56]
connector_log_x = [[-.13,-.38],[.9,1.18]]
connector_y = [[8.3,7.75],[8.25,8.1]]

# H, I: t-SNE embedding by cluster
cluster_points = {
"0": [(-8.5,21.5),(-7.5,20.5),(-5,21.8),(-3.5,21),(-2,20),(-.5,21.5),(.5,20),(-6,19),(-9,19.5),(-4,18.5),(-1.5,18),(1,18.5),(3,19.2),(5.5,20.5),(5,19.5),(6,20),(-10.5,17.5),(-8,17),(-6,16.8),(-3.5,16.5),(-1,16),(1,16.5),(3,16.8),(4.5,16.5),(-12,16),(-13,15),(-10,15),(-7.5,15),(-5,14.8),(-2.5,14.5),(0,14.5),(2,14.5),(3.5,15),(-16.5,14),(-14,13.5),(-11.5,13.5),(-9,13),(-6.5,13),(-4,13),(-1.5,12.8),(1,12.5),(3,13),(-15,12),(-13,11.5),(-10.5,11.5),(-8,11),(-5.5,11),(-3,11),(-.5,10.5),(2,11),(-16,10.5),(-14,10),(-11.5,9.8),(-9,9.5),(-7,9.5),(-4.5,9.5),(-2,9),(1.5,9),(-17,9),(-15,8.8),(-12.5,8),(-10,8),(-8,7.8),(-5,7.8),(-2.5,7.5),(.5,8),(-19.5,8),(-18,7.5),(-20,7.8),(-16,7.5),(-14,7),(-11,6.5),(-8.5,6.3),(-6,6),(-3,6),(-17,6),(-15,5.5),(-12,5),(-9,5),(-16.5,4.5),(-13,4.2),(-6.5,4.5),(-4,4),(0,6.5),(-1,5.2),(-7,18.2),(-2.8,17.3),(-9.3,14.2),(-6,12),(-12,12.5),(-3.2,9.8),(-7.5,8.8),(-13.5,9),
(-6.8,21),(-4.2,20),(-2.8,19.3),(-.3,19.5),(2,19.8),(-8,18.5),(-5,17.6),(-.5,17.2),(2.2,17.8),(-9.2,16.2),(-6.8,15.8),(-4.2,15.5),(-1.8,15.3),(1,15.2),(-11,14.5),(-8.2,14),(-5.3,13.8),(-2.8,13.2),(-.2,13.2),(2,13),(-13.8,12.5),(-11,12.3),(-9,12),(-7.2,12.1),(-4.5,12),(-1.8,11.5),(.8,11.2),(-15.2,10.8),(-12.5,10.5),(-10,10.5),(-8,10.2),(-6,10.3),(-1,9.7),(-18,8.3),(-13.6,7.7),(-11.2,8.7),(-9,7.6),(-6.5,7.2),(-3.8,7),(-1,7),(-15.5,6.5),(-12.8,6.2),(-9.8,6),(-7.2,5.5),(-4.5,5.2),(-10.8,5),(-14.5,4.6),(-2,4.5)],
"1": [(7.5,18.5),(8.5,18.3),(12,18.5),(13,19),(12.5,18),(17.5,20.3),(18.5,19.5),(20,19.5),(19.5,18.5),(18,18),(20,17.5),(19,17),(19.5,15.5),(20,14.5),(19.5,13.5),(10.5,15.5),(10,14.5),(9.8,13.5),(9.5,12.8),(10,12),(15,14),(15,13),(19.5,12.5),(20,11.5),(18.5,11),(20,10.5),(18,9.5),(19.5,9.5),(14.5,10.5),(10.5,11),(14.5,8.5),(16,8.5),(18,7.5),(15,7),(17,6.5),(20,6.5),(22,7),(23,6.5),(25.5,6),(27,6.3),(30,8.5),(30.5,8),(29.5,7),(15,6),(16.5,5.5),(18,5.5),(20,5),(22,4.8),(23.5,5),(26,5.5),(27.5,5.5),(13.5,4.5),(15,4.2),(17,4),(20.5,4),(22.5,3.8),(26,4),(25,3),(13,3.5),(16,3),(18.5,2.5),(26.5,1.8),(25.5,1),(27,.5),(24.5,-.5),(27,-.5),(25.5,-1.5),(26.5,-2),(24,-2.8),(27,-3.5),(18.5,-.5),(24.5,1),(7.5,-13.5),(19.5,-7.5),(19.3,-8.2),(.2,-15.5),
(13,17.5),(19,16),(20.5,15.3),(18.8,14),(19,12.2),(17.8,12.8),(18.5,10),(20.5,9),(15.5,9.5),(17,7.8),(19,7),(16,7),(21,5.8),(24.5,6),(19,4.5),(21.5,5.5),(24.8,4.5),(16.2,4.8),(18,3.5),(23.5,3),(14.5,3.2),(27.5,1.5),(25,-.8),(26,0),(28,4.8),(28.5,6)],
"2": [(-20,3),(-18,2.5),(-16,3.5),(-13,3.5),(-11,3),(-8,3),(-6,4),(-19,1),(-17,.8),(-15,1),(-12,1.5),(-9.5,1),(-7,.5),(-5.5,1.5),(-4,2.5),(-20,-.5),(-18,-1),(-15.5,-.5),(-13,-.8),(-10.5,-.5),(-8,-1),(-6,-.5),(-4,0),(-22,-2),(-20,-2.5),(-17,-2.2),(-14,-2.5),(-11.5,-2.5),(-9,-2.8),(-23,-4),(-21,-4),(-19,-4),(-16,-4.2),(-13,-4.5),(-10.5,-4.5),(-7.5,-4),(-23.5,-5.2),(-21,-6),(-18.5,-5.8),(-16,-6),(-13.5,-6.2),(-11,-6.2),(-8.5,-5.5),(-23.5,-7.5),(-20,-7.5),(-17.5,-7.5),(-15,-7.8),(-12,-7.5),(-17,-9),(-15,-9.2),(-13,-9),(-11,-9),(-16,-10),(-14,-10.2),(-12,-10.5),(-10.5,-10.5),(-14.5,-11),(-11,-11.8),(-14,-11.5),(-11,-12.5),
(-14.5,2.2),(-9.7,2.3),(-7,2),(-16.2,.2),(-13.6,.4),(-8.2,.2),(-5,-.8),(-21,-1.2),(-18.8,-2.6),(-15.8,-1.6),(-12.5,-1.8),(-10,-1.6),(-7,-2),(-21.8,-5),(-19.8,-5.2),(-17.5,-5),(-14.8,-5.2),(-12,-5.5),(-9.5,-3.6),(-22,-6.5),(-19.3,-6.8),(-16.8,-6.8),(-14.2,-7),(-12.5,-8.5),(-15.8,-8.5),(-13.6,-8.2),(-10.5,-7.8),(-15,-10.5),(-13,-11),(-12,-11.7)],
"3": [(-.5,11),(5.5,11),(7,11),(4,10),(5.5,9),(3,9),(4.5,8),(2,7.5),(6,8),(.5,6.5),(3,6.5),(6,6.8),(7.5,7),(8,6.8),(1.5,5),(3.5,5),(5.5,5),(1,3.5),(3,3),(5,3.5),(-.5,2.5),(2,1.5),(4,1.5),(6,1.2),(-1,1),(.5,0),(3,0),(5,-.3),(6.5,0),(-1,-1.5),(1,-1.5),(3,-2),(5,-2),(7,-1.5),(-.5,-2.8),(2,-3.2),(4,-3.5),(6,-3.5),(8,-3),(1,-4.2),(3,-5),(5,-4.8),(7,-5),(9,-4.2),(9.5,-5.5),(10.5,-5.8),(10,-6.5),(-1,-5.8),(2,-6),(4,-6.5),(4,-7.5),(4.5,-8.5),(6,-9.5),(5,-12.7),(5.5,-13.5),
(2,5.8),(4.5,6.2),(2.5,4),(4,2.5),(1,2),(5.5,2.2),(2,.5),(4.3,.6),(1.7,-.6),(4,-1),(6,-.8),(2.8,-4),(5.5,-3),(7.2,-3.4),(4.3,-5.4),(6,-5.8),(3,-6.6),(5.2,-7),(3.2,-7.8)],
"4": [(-4,-8.5),(-5.5,-9.5),(-3,-10),(-7,-10.5),(-5,-11),(-4,-11.5),(-2,-11.5),(-6,-12),(-4,-12.8),(-2.5,-13),(-9,-13),(-7,-13.5),(-5,-14),(-3,-14),(-1,-13.8),(1,-14),(-9.5,-14.5),(-8,-15),(-6,-15.5),(-3.5,-15.5),(-1.5,-15.5),(.5,-15),(-10.5,-16),(-8.5,-16.5),(-6,-16.8),(-4,-17),(-2.5,-17),(-.5,-17),(-10,-17.8),(-8,-18),(-6.5,-18.5),(-4.5,-18.5),(-2,-18.5),(-9,-19.5),(-7,-20),(-5.5,-20),(-3,-20),(-8.5,-21),(-6.5,-21),(-7.5,-21.5),(-1,-21),(-.5,-21.5),(-7,-22),(-3.5,-19.8),(14.5,1),(18,-12.8),(18.5,-13.2),
(-7.8,-14.2),(-4.8,-15),(-2.5,-14.8),(-9.3,-15.8),(-7,-16),(-3,-16.2),(-1,-16.2),(-9,-17.3),(-7,-17.4),(-5.2,-17.8),(-3.2,-18),(-8,-19),(-5.8,-19.2),(-4,-19.4),(-7.7,-20.3),(-6,-20.8)],
"5": [(1,-26.2),(2,-27.5),(2.5,-28.2),(3,-28.5),(1.5,-28.8),(4,-29),(2.5,-29.5),(4.5,-29.8),(5,-30.5),(2,-30.5),(3,-31),(4,-31),(5.5,-31.2),(2,-31.8),(6,-32),(3,-32),(4.5,-32.5),(6.5,-32.8),(5,-33.3),(3.5,-33.5),(5.5,-34),(3.5,-35.5),(4.5,-35.5),(3,-36),(2.5,-37),(1.5,-37.2),(3,-37.5),(2,-38),(3.5,-38),(3,-38.5),(3.5,-39),(2.5,-36.5),(27.8,-4.2),
(3.5,-30),(5.5,-32),(4,-33),(2.6,-32.6),(5.8,-33),(4,-34.2),(2.4,-38.3),(2.8,-37.8),(3.8,-37.3)],
"6": [(8,-16),(9,-16.2),(8.5,-17),(9.5,-17),(9,-18),(10,-18.2),(10.5,-19),(11.5,-19),(11,-19.5),(11.3,-18.7),(7.5,-15),(10,-19)],
"7": [(-31,-3),(-30.5,-3.5),(-31,-4.2),(-29.5,-3.8),(-30.5,-5),(-29.5,-5),(-28.5,-4.5),(-29,-3.5),(-30,-4.5),(-27.5,-4.3),(-28.5,-5.3),(-29.8,-5.6)],
"8": [(20,-8),(22.5,-9.5),(20,-11.5),(21,-11.5),(22,-11.5),(19.5,-12),(20.5,-12.5),(21.5,-12.5),(20.5,-13),(21,-13.5),(14,-13.2),(13.8,-13.8)],
}
cluster_colors = ["#E4766C","#C58F2C","#A0A72B","#5DB544","#5DB595","#6AB9E0","#6A93F0","#C771F0","#EE5DC0"]
cluster_labels = ["0","1","2","3","4","5","6","7","8"]
cluster_label_x = [-7,19.5,-13,4,-5.5,4,10,-30,20.5]
cluster_label_y = [13,8,-3.5,-2,-17,-32,-18,-4.5,-12.5]
cluster_cell_type = {"0":"Astrocyte","1":"Astrocyte","2":"Astrocyte","3":"Astrocyte","4":"Astrocyte","5":"Monocyte","6":"Astrocyte","7":"Astrocyte","8":"Endothelial_cells"}
cell_types = ["Astrocyte","Monocyte","Endothelial_cells"]
cell_type_colors = ["#2E3A8C","#D00010","#3A8040"]
cell_label_x = [-2.9,4.1,20.6]
cell_label_y = [3.5,-32.3,-12.4]

# J: dot plot
dot_features = ["CTSA","CLIC1","CTSA","CLIC1","CTSA","CLIC1"]
dot_identity = ["Endothelial_cells","Endothelial_cells","Monocyte","Monocyte","Astrocyte","Astrocyte"]
dot_avg = [0.1,0.95,0.95,0.4,-1.05,-0.98]
dot_pct = [12,45,22,52,5,2]
dot_sizes = {12:4,45:42,22:14,52:56,5:1.5,2:0.6}
legend_pct = [10,20,30,40,50]
legend_pct_diam = [1.8,3.3,5,6,7.2]

# K: violins, levels and relative counts
ctsa_mono_levels = [0,.1,.2,.3,.4,.5,.6,.7,.8,.9,1,1.1,1.2,1.3,1.4,1.5,1.6,1.7,1.8,1.9,2,2.1,2.2,2.3,2.4,2.5,2.6,2.7,2.8,2.9,3]
ctsa_mono_counts = [107,70,38,16,8,6,6,7,8,8,9,10,9,7,4,3,2,2,2,3,4,6,6,4,2,1,1,1,1,2,3]
ctsa_astro_levels = [0,2.33]
ctsa_astro_counts = [5000,1]
ctsa_endo_levels = [0,.82,1.06,1.27,1.8,2.18]
ctsa_endo_counts = [3000,1,1,1,1,1]
clic_astro_levels = [0,2.98]
clic_astro_counts = [5000,1]
clic_mono_levels = [0,.2,.4,.6,.8,1,1.2,1.4,1.6,1.8,2,2.2,2.4,2.6,2.8,3]
clic_mono_counts = [106,75,58,45,35,34,39,44,47,49,51,57,60,56,44,39]
clic_endo_levels = [0,.2,.4,.6,.8,1,1.2,1.4,1.6,1.8,2,2.2,2.4,2.6,2.8,3,3.2,3.4,3.54]
clic_endo_counts = [105,78,64,51,42,32,27,26,30,37,44,52,57,61,59,53,46,38,40]
violin_palette = {"Astrocyte":"#A8A8A8","Monocyte":"#7AB8D6","Endothelial_cells":"#5BA088"}
identity_order = ["Astrocyte","Monocyte","Endothelial_cells"]

# ---------- layout ----------
W, H = 1772, 1428
sns.set_theme(style="ticks")
plt.rcParams["font.family"] = ["Liberation Sans", "DejaVu Sans"]
plt.rcParams["axes.unicode_minus"] = False
fig = plt.figure(figsize=(W/100, H/100), dpi=100, facecolor="white")
GREY = "#555555"; TXT = "#3a3a3a"

def add_ax(l, t, r, b, xlim=None, ylim=None, tick=6.8, label=8):
    ax = fig.add_axes([l/W, 1-b/H, (r-l)/W, (b-t)/H])
    sns.despine(ax=ax)
    for s in ("left","bottom"):
        ax.spines[s].set_color(GREY); ax.spines[s].set_linewidth(1.0)
    ax.tick_params(labelsize=tick, length=2, width=.7, color=GREY, labelcolor=TXT, pad=2)
    ax._fs_label = label
    ax._lims = (xlim, ylim)
    return ax

def finish(ax, xlabel, ylabel, title=None, pad=2, ypad=2):
    xlim, ylim = ax._lims
    if xlim: ax.set_xlim(*xlim)
    if ylim: ax.set_ylim(*ylim)
    ax.set_xlabel(xlabel, fontsize=ax._fs_label, color=TXT, labelpad=pad)
    ax.set_ylabel(ylabel, fontsize=ax._fs_label, color=TXT, labelpad=ypad)
    if title:
        ax.set_title(title, fontsize=9.5, fontweight="bold", color="#111", pad=5)

def legend_at(ax, handles, labels, x, y, title=None, size=7, spacing=.25, tpad=.4, weight=None, sep=None):
    leg = ax.legend(handles, labels, loc="upper left", bbox_to_anchor=(x/W, 1-y/H), bbox_transform=fig.transFigure,
                    frameon=False, borderpad=0, borderaxespad=0, labelspacing=spacing, handlelength=1,
                    handletextpad=tpad, title=title, alignment="left",
                    prop={"size":size, "weight":weight or "normal"}, title_fontsize=8)
    for t in leg.get_texts(): t.set_color(TXT)
    if title: leg.get_title().set_color(TXT)
    if sep is not None: leg._legend_box.sep = sep
    return leg

def dot(color, s=3.4):
    return Line2D([], [], ls="", marker="o", color=color, markersize=s, markeredgewidth=0)

letters = [("A",3,31),("B",363,31),("C",803,31),("D",1153,31),("E",1476,31),("F",6,529),("G",390,529),("H",829,529),("I",1205,529),("J",6,993),("K",780,993)]
for s, x, y in letters:
    fig.text(x/W, 1-y/H, s, fontsize=28, fontweight="bold", color="black", va="baseline", ha="left", family="Liberation Sans")

# A
ax = add_ax(70.6,60,331,404,(-7.9,172.9),(-.24,5.26))
a = np.array(a_points)
sns.scatterplot(x=a[:,0], y=a[:,1], color=qc_color, s=10, linewidth=0, ax=ax)
ax.set_xticks([0,50,100,150]); ax.set_xticklabels(["0","50000","100000","150000"])
ax.set_yticks([0,1,2,3,4,5])
finish(ax, "nCount_RNA", "percent.mt", "0.07", ypad=15)
legend_at(ax, [dot(qc_color)], [identity_name], 318, 219, title="Identity", size=6, tpad=.0, weight="bold", sep=5)

# B
ax = add_ax(443,60,704,404,(-7.9,172.9),(-342,10342))
b = np.array(b_points)
sns.scatterplot(x=b[:,0], y=b[:,1], color=qc_color, s=10, linewidth=0, ax=ax)
ax.set_xticks([0,50,100,150]); ax.set_xticklabels(["0","50000","100000","150000"])
ax.set_yticks([0,2500,5000,7500,10000])
finish(ax, "nCount_RNA", "nFeature_RNA", "0.85")
legend_at(ax, [dot(qc_color)], [identity_name], 714, 219, title="Identity", size=6, tpad=.0, weight="bold", sep=5)

# C, D, E
def qc_violin(pos, ylim, levels, counts, pts, pts_more, yticks, title, bw):
    ax = add_ax(*pos, (-.6,.6), ylim)
    sns.violinplot(y=np.repeat(levels, counts), color=qc_color, saturation=1, width=.9, cut=0, inner=None,
                   density_norm="width", bw_method=bw, gridsize=400, linewidth=.7, linecolor="#333333", ax=ax)
    n = min(len(jitter_offsets), len(pts))
    m = min(len(jitter_offsets), len(pts_more))
    sns.scatterplot(x=jitter_offsets[:n], y=pts[:n], color="black", s=2.2, linewidth=0, ax=ax, zorder=5)
    sns.scatterplot(x=jitter_offsets[::-1][:m], y=pts_more[:m], color="black", s=2.2, linewidth=0, ax=ax, zorder=5)
    ax.set_xticks([0]); ax.set_xticklabels(["seurat"], rotation=45, ha="right", rotation_mode="anchor", style="italic")
    ax.set_yticks(yticks)
    finish(ax, "Identity", "", title, pad=3)

qc_violin((863.4,39,1107.6,415.7), (-410,10868), c_levels, c_counts, c_values, c_values_more, [0,2500,5000,7500,10000], "nFeature_RNA", .17)
qc_violin((1201.5,39,1445,415.7), (-8490,191450), d_levels, d_counts, d_values, [v*100 for v in d_values_more], [0,50000,100000,150000], "nCount_RNA", .07)
qc_violin((1524.7,39,1769.5,415.7), (-4.45,95.9), e_levels, e_counts, e_values, e_values_more, [0,25,50,75], "percent.mt", .1)

# F, G
def hvf(left, right, labelled):
    ax = add_ax(left,521.7,right,872,(10**-3.406,10**2.96),(-.556,11.84), tick=7.8, label=9.2)
    bl = np.array(black_points); rd = np.array(red_points)
    sns.scatterplot(x=10**bl[:,0], y=bl[:,1], color="black", s=14, linewidth=0, ax=ax)
    sns.scatterplot(x=10**rd[:,0], y=rd[:,1], color="#DD0000", s=8, linewidth=0, ax=ax)
    ax.set_xscale("log")
    ax.set_xticks([1e-2,1,1e2]); ax.set_xticklabels(["1e\u221202","1e+00","1e+02"])
    ax.minorticks_off()
    ax.set_yticks([0,3,6,9])
    finish(ax, "Average Expression", "Standardized Variance")
    legend_at(ax, [dot("black",2.6),dot("#DD0000",2.6)], ["Non-variable count: 17785","Variable count: 1500"], left+140.5, 688, size=8, spacing=.3, tpad=.55)
    if labelled:
        for n, x, y in zip(gene_names, gene_log_x, gene_y):
            ax.text(10**x, y, n, fontsize=7.4, color=TXT, ha="center", va="center")
        for x, y in zip(connector_log_x, connector_y):
            ax.plot(10**np.array(x), y, color="#222", lw=.7)
hvf(67.5,193,False)
hvf(441,566.6,True)

# H, I
rows = [(c, x, y) for c, pts in cluster_points.items() for x, y in pts]
tsne = pd.DataFrame(rows, columns=["cluster","tSNE_1","tSNE_2"])
tsne["cell_type"] = tsne["cluster"].map(cluster_cell_type)

ax = add_ax(866.5,585,1150,880,(-34.2,34.5),(-41.5,25.3), tick=7, label=8)
sns.scatterplot(data=tsne, x="tSNE_1", y="tSNE_2", hue="cluster", hue_order=cluster_labels, palette=cluster_colors, s=16, linewidth=0, legend=False, ax=ax)
for n, x, y in zip(cluster_labels, cluster_label_x, cluster_label_y):
    ax.text(x, y, n, fontsize=6, color="#222", ha="center", va="center")
ax.set_xticks([-20,0,20]); ax.set_yticks([-40,-20,0,20])
ax.set_xticklabels(["\u221220","0","20"]); ax.set_yticklabels(["\u221240","\u221220","0","20"])
finish(ax, "tSNE_1", "tSNE_2")
legend_at(ax, [dot(c,4) for c in cluster_colors], cluster_labels, 1162, 682, size=7, spacing=.28, tpad=.4)

ax = add_ax(1284.8,573,1680.7,887,(-34.1,34.4),(-41.7,25.3), tick=6, label=7)
sns.scatterplot(data=tsne, x="tSNE_1", y="tSNE_2", hue="cell_type", hue_order=cell_types, palette=cell_type_colors, s=16, linewidth=0, legend=False, ax=ax)
for n, x, y in zip(cell_types, cell_label_x, cell_label_y):
    ax.text(x, y, n, fontsize=5.2, color="#444", ha="center", va="center")
ax.set_xticks([-20,0,20]); ax.set_yticks([-40,-20,0,20])
ax.set_xticklabels(["\u221220","0","20"]); ax.set_yticklabels(["\u221240","\u221220","0","20"])
finish(ax, "tSNE_1", "tSNE_2")
legend_at(ax, [dot(c,4) for c in cell_type_colors], cell_types, 1691, 718, size=6, spacing=.42, tpad=.3)

# J
cmap = LinearSegmentedColormap.from_list("lowhigh", ["#0000FF","#E0001B"])
norm = Normalize(-1.09, .974)
ax = add_ax(114,985,575.8,1343,(-.597,1.598),(-.6,2.6), tick=6.8, label=7.5)
dots = pd.DataFrame({"Features":dot_features,"Identity":dot_identity,"avg":dot_avg,"pct":dot_pct})
dots["fx"] = dots["Features"].map({"CTSA":0,"CLIC1":1})
dots["iy"] = dots["Identity"].map({"Astrocyte":0,"Monocyte":1,"Endothelial_cells":2})
sns.scatterplot(data=dots, x="fx", y="iy", hue="avg", palette=cmap, hue_norm=norm, size="pct", sizes=dot_sizes, linewidth=0, legend=False, ax=ax)
ax.set_xticks([0,1]); ax.set_xticklabels(["CTSA","CLIC1"])
ax.set_yticks([0,1,2]); ax.set_yticklabels(["Astrocyte","Monocyte","Endothelial_cells"])
finish(ax, "Features", "Identity", pad=4)
legend_at(ax, [dot("black",d) for d in legend_pct_diam], [str(p) for p in legend_pct], 587, 1171, title="Percent Expressed", size=7, spacing=.45, tpad=.6, sep=5)
cax = fig.add_axes([587/W, 1-1158.7/H, 12/W, 61/H])
cb = ColorbarBase(cax, cmap=cmap, norm=norm, ticks=[-1,-.5,0,.5])
cb.ax.set_yticklabels(["\u22121.0","\u22120.5","0.0","0.5"])
cb.ax.tick_params(labelsize=7, length=0, pad=2, labelcolor=TXT)
cb.outline.set_visible(False)
fig.text(587/W, 1-1088/H, "Average Expression", fontsize=8, color=TXT, va="center", ha="left")

# K
def expr_violin(pos, ylim, ticks, lv, ct, title):
    ax = add_ax(*pos, (-.6,2.6), ylim, tick=7, label=7.5)
    frames = [pd.DataFrame({"Identity":name,"Expression":np.repeat(lv[i], ct[i])}) for i, name in enumerate(identity_order)]
    df = pd.concat(frames, ignore_index=True)
    sns.violinplot(data=df, x="Identity", y="Expression", hue="Identity", order=identity_order, hue_order=identity_order,
                   palette=violin_palette, saturation=1, width=.9, cut=0, inner=None, density_norm="width",
                   bw_method=.11, gridsize=300, linewidth=.7, linecolor="#555555", legend=False, ax=ax)
    ax.set_xticks([0,1,2]); ax.set_xticklabels(identity_order, rotation=45, ha="right", rotation_mode="anchor", style="italic")
    ax.set_yticks(ticks)
    finish(ax, "Identity", "Expression Level", title, pad=1)
    return ax

ax = expr_violin((855.8,1065,1152,1347.7), (-.147,3.125), [0,1,2,3],
                 [ctsa_astro_levels,ctsa_mono_levels,ctsa_endo_levels], [ctsa_astro_counts,ctsa_mono_counts,ctsa_endo_counts], "CTSA")
sns.scatterplot(x=[2]*5, y=ctsa_endo_levels[1:], color="#222", s=3, linewidth=0, ax=ax, zorder=5)
ax.set_xlim(-.6,2.6); ax.set_xlabel("Identity", fontsize=7.5, color=TXT, labelpad=1); ax.set_ylabel("Expression Level", fontsize=7.5, color=TXT, labelpad=2)
expr_violin((1187,1065,1482.7,1347.7), (-.174,3.71), [0,1,2,3],
            [clic_astro_levels,clic_mono_levels,clic_endo_levels], [clic_astro_counts,clic_mono_counts,clic_endo_counts], "CLIC1")

fig.savefig("out.png", dpi=100, facecolor="white")
